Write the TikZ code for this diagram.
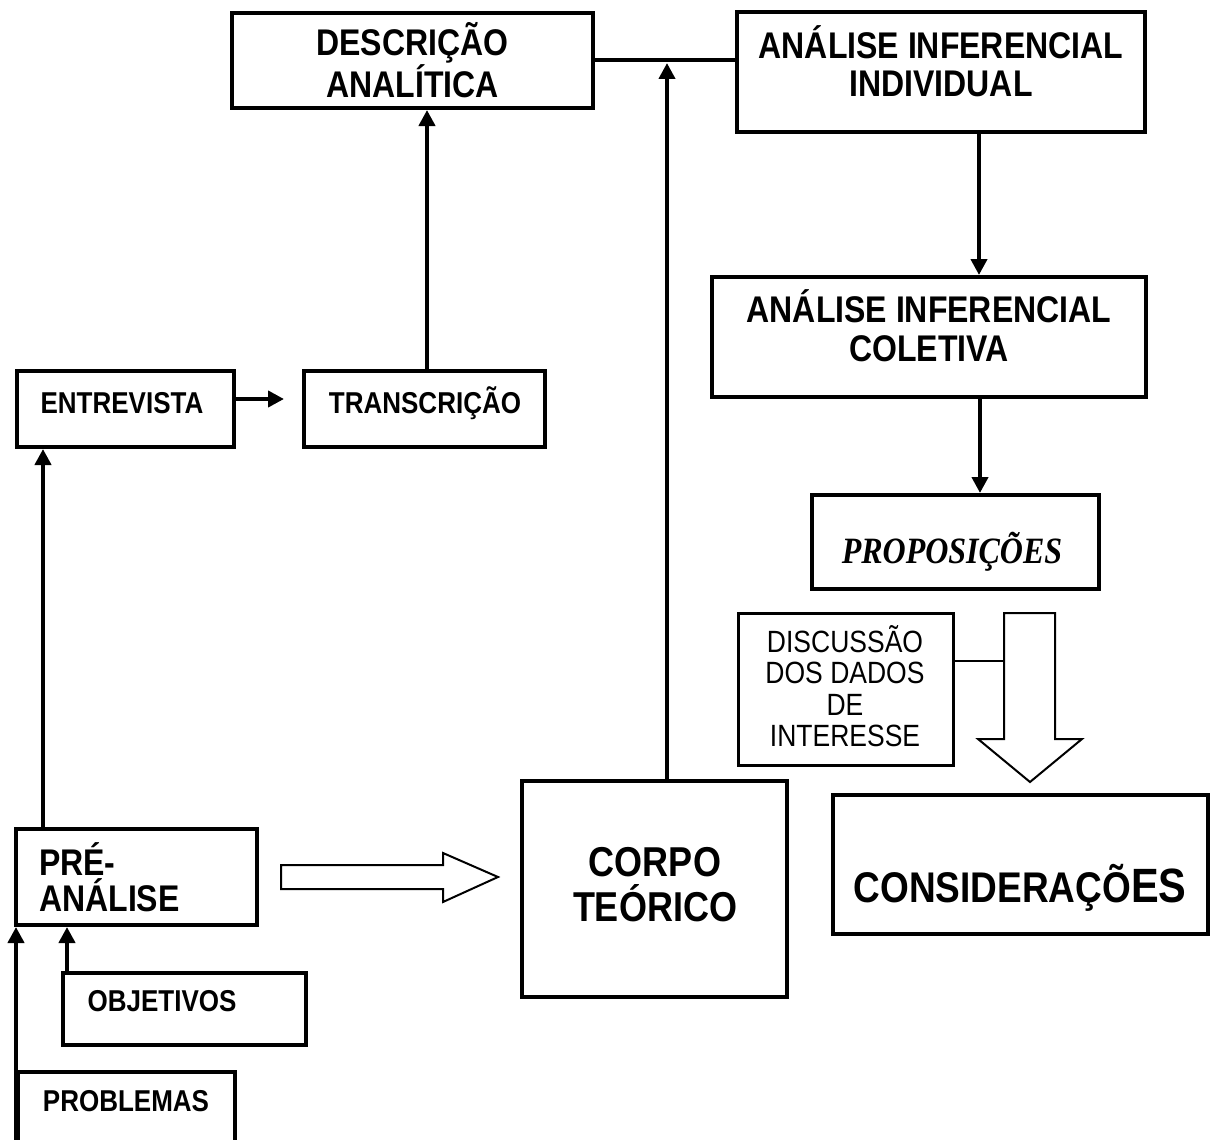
\documentclass[tikz,border=0pt]{standalone}
\usepackage{fontspec}
\usepackage{graphicx}
\setmainfont{Liberation Sans}
\newfontfamily\propfont{Liberation Serif}
\usetikzlibrary{arrows.meta}
\newcommand{\vst}{1.16}
\newcommand{\vs}[1]{\scalebox{1}[\vst]{#1}}
\begin{document}
\begin{tikzpicture}[x=1pt,y=-1pt,
  box/.style={draw,line width=4pt,rectangle,inner sep=0pt,outer sep=0pt},
  thinbox/.style={draw,line width=3pt,rectangle,inner sep=0pt,outer sep=0pt},
  lbl/.style={inner sep=0pt,align=center,font=\bfseries\fontsize{32}{37}\selectfont},
  slbl/.style={inner sep=0pt,align=center,font=\bfseries\fontsize{26}{30}\selectfont},
  arr/.style={line width=4pt,shorten >=2pt,-{Triangle[length=16pt,width=16pt]}},
  conn/.style={line width=4pt},
  blk/.style={draw,line width=2pt,fill=white,line join=miter}]
\clip (0,0) rectangle (1211,1140);
\fill[white] (0,0) rectangle (1211,1140);

% boxes
\node[box,minimum width=361,minimum height=95] (desc) at (412.5,60.5) {};
\node[lbl,font=\bfseries\fontsize{32}{35}\selectfont] (descT) at (412.5,60) {\vs{DESCRIÇÃO}\\\vs{ANALÍTICA}};

\node[box,minimum width=408,minimum height=120] (aii) at (941,72) {};
\node[lbl,font=\bfseries\fontsize{32}{38}\selectfont] (aiiT) at (941,61) {\vs{ANÁLISE INFERENCIAL}\\\vs{INDIVIDUAL}};

\node[box,minimum width=434,minimum height=120] (aic) at (929,337) {};
\node[lbl,font=\bfseries\fontsize{32}{39}\selectfont] (aicT) at (929,326) {\vs{ANÁLISE INFERENCIAL}\\\vs{COLETIVA}};

\node[box,minimum width=287,minimum height=94] (prop) at (955.5,542) {};
\node[inner sep=0pt,font=\propfont\bfseries\itshape\fontsize{32}{36}\selectfont] (propT) at (952,552) {\vs{PROPOSIÇÕES}};

\node[thinbox,minimum width=215,minimum height=152] (disc) at (845.5,689) {};
\node[inner sep=0pt,align=center,font=\fontsize{26.5}{31.5}\selectfont] (discT) at (845,686)
  {\vs{DISCUSSÃO}\\\vs{DOS DADOS}\\\vs{DE}\\\vs{INTERESSE}};

\node[box,line width=3.5pt,minimum width=375,minimum height=139] (cons) at (1020.5,864.5) {};
\node[inner sep=0pt,font=\bfseries] (consT) at (1020,888)
  {\vs{\fontsize{37}{40}\selectfont CONSIDERAÇÕ}\vs{\fontsize{41.5}{44}\selectfont ES}};

\node[box,minimum width=265,minimum height=216] (corpo) at (654.5,889) {};
\node[inner sep=0pt,align=center,font=\bfseries\fontsize{36}{45}\selectfont] (corpoT) at (655,885) {\vs{CORPO}\\\vs{TEÓRICO}};

\node[box,minimum width=241,minimum height=96] (pre) at (136.5,877) {};
\node[lbl,align=left,anchor=west,font=\bfseries\fontsize{32}{36}\selectfont] (preT) at (39,877) {\vs{PRÉ-}\\\vs{ANÁLISE}};

\node[box,minimum width=217,minimum height=76] (entr) at (125.5,409) {};
\node[slbl] (entrT) at (122,403) {\vs{ENTREVISTA}};

\node[box,minimum width=241,minimum height=76] (trans) at (424.5,409) {};
\node[slbl] (transT) at (425,403) {\vs{TRANSCRIÇÃO}};

\node[box,minimum width=243,minimum height=72] (obj) at (184.5,1009) {};
\node[slbl] (objT) at (162,1001) {\vs{OBJETIVOS}};

\node[box,minimum width=217,minimum height=128] (prob) at (126.5,1136) {};
\node[slbl] (probT) at (126,1101) {\vs{PROBLEMAS}};

% connectors
\coordinate (jn) at (667,61);
\draw[conn] (desc.east) -- (desc.east -| aii.west);
\draw[arr] (corpo.north -| jn) -- (jn);

\coordinate (a1) at ([xshift=2.5pt]trans.north);
\draw[arr] (a1) -- (a1 |- desc.south);

\coordinate (a2) at ([xshift=38pt]aii.south);
\draw[arr] (a2) -- (a2 |- aic.north);

\coordinate (a3) at ([xshift=51pt]aic.south);
\draw[arr] (a3) -- (a3 |- prop.north);

\coordinate (a4) at ([xshift=27pt]pre.north west);
\draw[arr] (a4) -- (a4 |- entr.south);

\coordinate (a5) at ([yshift=10pt]entr.east);
\draw[arr,shorten >=20pt] (a5) -- (a5 -| trans.west);

\coordinate (a6) at ([xshift=4pt]obj.north west);
\draw[arr] (a6) -- (a6 |- pre.south);

\coordinate (probfoot) at (16,1140);
\draw[arr] (probfoot) -- (probfoot |- pre.south);

% block arrow toward CORPO TEORICO
\coordinate (ra1) at (281,865);
\coordinate (ra2) at (443,865);
\coordinate (ra3) at (443,853);
\coordinate (ratip) at (498,877);
\coordinate (ra5) at (443,902);
\coordinate (ra6) at (443,889);
\coordinate (ra7) at (281,889);
\draw[blk] (ra1) -- (ra2) -- (ra3) -- (ratip) -- (ra5) -- (ra6) -- (ra7) -- cycle;

% big down arrow toward CONSIDERACOES
\coordinate (da1) at (1004,613);
\coordinate (da2) at (1055,613);
\coordinate (da3) at (1055,739);
\coordinate (da4) at (1082,739);
\coordinate (datip) at (1030,782);
\coordinate (da6) at (978,739);
\coordinate (da7) at (1004,739);
\draw[blk] (da1) -- (da2) -- (da3) -- (da4) -- (datip) -- (da6) -- (da7) -- cycle;

\coordinate (bigL) at (1004,661);
\draw[line width=2pt] (disc.east |- bigL) -- (bigL);
\end{tikzpicture}
\end{document}
